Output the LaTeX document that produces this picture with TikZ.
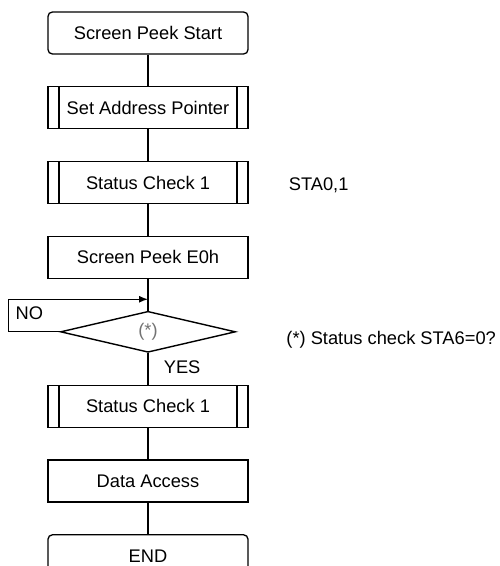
\documentclass[tikz,border=0pt]{standalone}
\usepackage{fontspec}
\setmainfont{Liberation Sans}
\usetikzlibrary{positioning,shapes.geometric,calc}
\tikzset{
  box/.style={draw,line width=0.75pt,minimum width=4cm,minimum height=0.84cm,inner sep=2pt,font=\fontsize{10.4}{12.5}\selectfont},
  terminal/.style={box,rounded corners=2.5pt},
  subproc/.style={box,path picture={
      \draw[line width=0.75pt] ([xshift=0.22cm]path picture bounding box.north west) -- ([xshift=0.22cm]path picture bounding box.south west)
        ([xshift=-0.22cm]path picture bounding box.north east) -- ([xshift=-0.22cm]path picture bounding box.south east);}},
  decision/.style={draw,diamond,line width=0.8pt,minimum width=3.5cm,minimum height=0.82cm,inner sep=0pt,font=\fontsize{10.4}{12.5}\selectfont,text=black!55},
  note/.style={font=\fontsize{10.4}{12.5}\selectfont},
  flow/.style={line width=0.75pt},
  node distance=0.63cm,
}
\begin{document}
\begin{tikzpicture}
  \useasboundingbox (0,0) rectangle (9.98,-11.32);
  \node[terminal] (start) at (2.96,-0.66) {Screen Peek Start};
  \node[subproc,below=of start] (addr) {Set Address Pointer};
  \node[subproc,below=of addr] (stat1) {Status Check 1};
  \node[box,below=of stat1] (peek) {Screen Peek E0h};
  \node[decision,below=of peek] (check) {(*)};
  \node[subproc,below=of check] (stat2) {Status Check 1};
  \node[box,below=of stat2] (access) {Data Access};
  \node[terminal,below=of access] (finish) {END};
  % side notes
  \node[note,right=0.68cm of stat1,yshift=-0.06cm] (sta) {STA0,1};
  \node[note,right=0.88cm of check,yshift=-0.16cm] (cond) {(*) Status check STA6=0?};
  % connectors
  \draw[flow] (start) -- (addr);
  \draw[flow] (addr) -- (stat1);
  \draw[flow] (stat1) -- (peek);
  \draw[flow] (peek) -- (check);
  \draw[flow] (check) -- (stat2);
  \draw[flow] (stat2) -- (access);
  \draw[flow] (access) -- (finish);
  \coordinate (join) at ($(peek.south)!0.64!(check.north)$);
  \draw[flow,-latex] (check.west) -- ++(-1.02,0) coordinate (corner) |- (join);
  \node[note,anchor=north west,inner sep=2pt] (no) at ([xshift=0.06cm,yshift=-0.08cm]corner |- join) {NO};
  \node[note,anchor=north west,inner sep=2pt] (yes) at ([xshift=0.24cm,yshift=-0.08cm]check.south) {YES};
\end{tikzpicture}
\end{document}
